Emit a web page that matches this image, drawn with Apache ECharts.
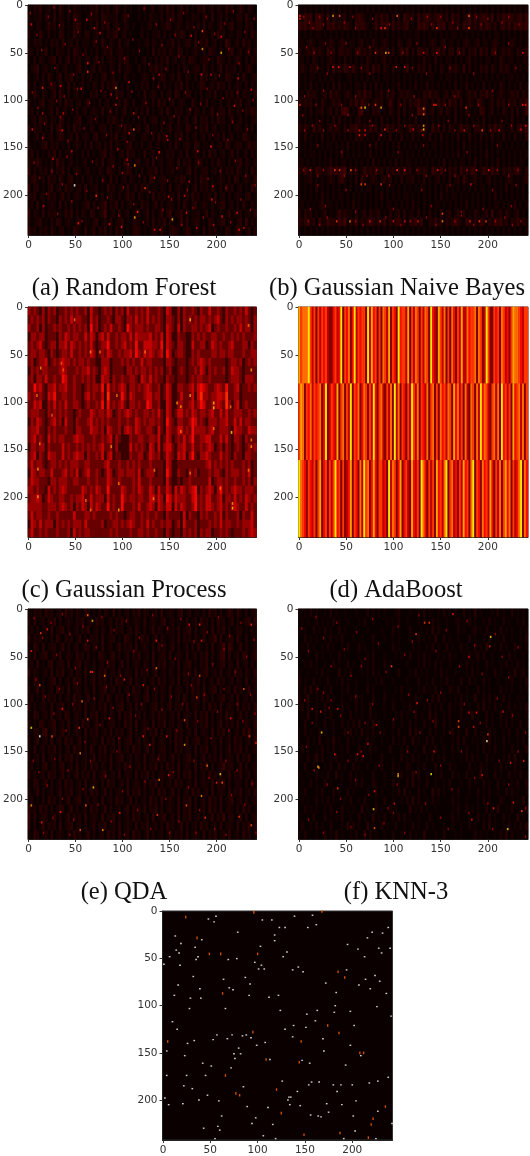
<!DOCTYPE html>
<html><head><meta charset="utf-8">
<script src="https://cdn.jsdelivr.net/npm/echarts@6/dist/echarts.min.js"></script>
<style>html,body{margin:0;padding:0;background:#fff}#c{width:530px;height:1156px}</style></head>
<body><div id="c"></div>
<script>
const captions = ["(a) Random Forest","(b) Gaussian Naive Bayes","(c) Gaussian Process","(d) AdaBoost","(e) QDA","(f) KNN-3",""];
const tickLabels = [0,50,100,150,200];
const heatA = [
"102130120 203102021 101021302 120131020 100102012 012031201 302010213 012021031 201310210",
"201120210 302102032 100121203 211120131 000101021 102021302 201021102 103012020 102203101",
"110210131 202201023 201010302 130121021 010010120 201132012 102110203 021013102 301102120",
"201031020 103201031 102201201 021230120 100020101 120201021 320102012 102031201 102102031",
"102120102 120301202 011102103 102103012 000101202 102011302 012203021 301201042 012031201",
"210201301 021102032 102010201 213012201 010100103 021202103 201012102 032102012 301201302",
"102021012 302013021 201201302 012102132 001012010 202130120 120321012 201032102 013102021",
"012301201 020120102 301012021 102103012 100201021 312020102 021012203 102013021 120201310",
"101202031 013021301 020120102 301201021 010012102 013201203 102102031 201201032 102031012",
"202012013 202103020 120102103 021320102 001021201 020201021 302010132 012031202 012102021",
"103102101 303102012 010021201 202031201 100103012 102012032 012201020 120301021 203021103",
"201023012 102031201 201301020 120102031 020012102 031201201 210031020 301102012 021301201",
"120201012 030120102 012012103 012020130 102020301 012031021 201202102 013012203 102102132",
"012031202 103201012 300120201 021310201 010102012 201102103 012013021 202031201 301201012",
"202120103 024102031 201021012 202012031 201201301 102013012 103201021 301201102 012102020",
"101203012 013201203 012102301 102130120 120012102 031201021 302012012 020120301 201032101",
"201012302 120102012 102030120 203021012 301020120 120102031 012103201 102012032 012201312",
"130201021 302011201 020201012 302101203 120103012 021021201 203012102 031201201 302012021",
"211320102 041201201 012010203 012201032 102201203 012012103 021201320 102031102 012302102",
"302021203 021302012 101201021 032102013 201020121 302011201 102302012 201203021 203102031",
"123102031 203102301 020120102 103020120 210102032 012201021 320102031 201012102 032012103",
"302201023 012031201 203011201 031201203 012031201 102103012 102013021 203102031 201201032",
"213012031 201302012 102010302 012102013 120210103 021201203 012031201 120301202 012102301",
"120302012 103020201 012302012 402130201 201031201 302012102 031023012 102012301 202031021",
"302103021 201031302 021032012 501203012 012201302 013024012 302011201 302102013 021201203",
"201230102 032012102 201102301 203012301 022101203 021302101 403012201 032012301 102304021",
"312021203 102201032 103013021 302031201 023201012 203102321 013201103 021201032 013201302"];
const heatB = [
"101010101 010101010 101010101 010101010 101010101 010101010 101010101 010101010 101010101",
"213230332 030211120 102321010 213120202 032120312 321232120 312012313 123213021 323212313",
"323132332 032312132 103232101 313230312 123010323 203132302 212032312 131321202 313132323",
"101010110 101010101 010101010 101010101 010101101 010101010 110101010 101010110 101010101",
"110121011 012101210 110120102 101210102 101201101 012101201 101012101 201101210 101210101",
"201213121 031202212 102312120 212120201 313020321 202131202 203120212 031202301 212102112",
"110102101 012101020 101010210 101201010 101010102 010201011 010101201 010110102 101101011",
"121021201 020312132 131021203 120210201 013010212 020102102 121030201 021202102 121020101",
"101011010 101101001 101010101 010110101 010101010 011001011 010101001 010101010 101101010",
"101020101 010202010 101102010 201010102 010102010 201010101 020102010 102010102 101010201",
"110212101 203121012 101213120 112021201 212110102 131210120 213101212 021312012 101212021",
"212120102 101212010 213132101 212013102 020212312 102021203 120201210 321012021 202120213",
"101020112 012020343 010340102 120102102 020110434 012012021 020102101 032012010 210202013",
"101010101 010202010 101201010 102010102 010102010 101010101 020101010 102010101 010201010",
"212103121 012121020 223112131 202131202 101321212 103120202 101312102 212021312 101202313",
"102010102 010201010 102120101 020102010 201020101 020102010 102010201 020102010 201020102",
"101010101 011010102 010101010 201010102 010101010 101101010 101020101 010101011 010101010",
"101011010 101010201 010101020 101010101 101010101 010101010 102010101 010201010 101010101",
"110101010 102010110 101010102 010101020 101101010 101010201 010110102 010101020 101010110",
"213120321 123232340 212013121 312021212 131201212 103213102 120312132 013213120 212123102",
"101120101 012102310 102031012 101212010 201120102 010120102 012031012 010120101 012101012",
"101010201 010101010 101010110 101010101 010101011 010101020 101010101 011010101 020101010",
"101010102 010101101 010101010 102010101 011010101 010102010 110101010 101010201 010101010",
"110101012 011010101 020101010 101011010 101020101 010110101 010102010 101010110 101020101",
"202120101 201013121 102012021 120102012 020110201 020102012 012020102 101203012 021012010",
"212312031 132213240 213021232 121302123 120223130 021312021 232103212 132021323 120213121",
"101010101 010101010 101010101 010101010 101010101 010101010 101010101 010101010 101010101"];
const heatC = [
"323213132 312232323 223142212 323132314 223232422 232143113 132232132 242232132 232324212",
"232323132 213232423 322142312 232133213 324232423 232133213 132323233 232342132 323323213",
"322313122 323223232 323152312 324223215 323332322 332143214 132233232 341232232 232423313",
"133233122 213243233 224243134 242232332 424333342 324143113 221132323 223322322 323232223",
"232342123 313342432 323242123 352232342 325224443 325143213 321142233 124323223 422233132",
"233233213 212332422 323243123 243223233 425324343 234153123 321132322 223323323 322232233",
"231233412 323433232 332322113 331222323 232242332 222133212 221232343 232222212 332312323",
"132323322 223432223 233423213 431222213 323233232 323123112 321223243 132322312 433212222",
"231332422 322542232 232323114 331322322 332143242 322132212 221232332 232222212 333213332",
"225342133 423342232 212323325 152323431 332323432 231243113 322342454 322343252 234122323",
"323232143 522332232 213423224 162222531 432223442 331243112 422241463 323344362 233122222",
"224341132 423242233 212322325 152323421 332322542 231143113 322342354 223343263 134123222",
"233322132 323232212 322243233 243123234 323223323 242143124 423243233 234224242 233322323",
"132432123 423142213 222342323 232223223 224323233 232153213 322354232 133323342 242423322",
"233422132 322232213 322243323 143223134 324322332 142143224 423253333 234223332 143322433",
"234232142 323322234 332223223 234132111 322332233 241243123 242352233 442224242 133213222",
"133233132 222423223 232323234 223131111 423232143 141344213 342242232 343123132 123212323",
"234132143 322423234 331322324 134122111 322331243 231243214 341352133 432224232 132213322",
"242332123 323232333 223322222 342223223 232322232 222143112 222222222 342323232 322232312",
"143233224 222342324 123422321 243123323 332412333 122153113 221323122 232332132 333232412",
"243322213 323332233 222322322 243223222 232422232 222142112 122322222 241233232 232232313",
"332322142 323432222 243232432 252222432 232432243 142243142 432345132 343135232 343323332",
"233431243 223322323 342242333 142322532 332332244 243154243 332245232 442234133 242324323",
"333332233 323432313 243142432 252322522 232422343 143244142 432235232 443234232 343224232",
"242332232 232222242 223323222 223232212 332232322 322132222 141322132 322324132 223132242",
"143242333 132323233 324222223 122332323 432232423 223233123 142223122 232324233 223233342",
"242232322 232223142 323322222 223232222 322332322 322132122 132323132 331223232 122232343"];
const heatD = [
"7566685352 5354532245 3482546248 3545528374 5252653725 4284553725 3652536528 4327536252 6425373364 5562652385 2254526534 2576654355",
"5762546354 5624823543 7256253825 4624652538 4256325362 8362542538 5362543625 6252645365 2746352632 6526384653 2563628453 5274563625",
"8654254352 5724525358 4525234725 4263856247 4255342836 5247245327 4352864253 5274536825 6342537452 6825426453 7425362574 6253468264"];
const heatE = [
"102120312 012031202 103201020 210302012 021302101 203012102 301201102 031202013 203102012",
"203012021 302012102 130120312 012021302 012103012 102301201 102012031 202031201 302012303",
"120201203 012302012 021301202 103021201 203102013 021021203 012302012 103021302 012201021",
"302120102 031021201 301021203 012201032 102031201 302101203 021202103 012403012 203102012",
"103203012 201302012 013202103 012013021 203012102 031201302 012020310 203012504 201302012",
"203012301 203012103 120201032 102302012 021301203 012203012 103012021 302013403 012032013",
"120301023 012203012 302102012 031201302 012102103 021301203 012301021 302012302 103012021",
"302101203 021301202 103012021 301203012 103021201 301202103 021203012 301203012 031202103",
"103201012 302012031 202013021 202031201 302102012 031201203 012021302 012031201 202103012",
"201302012 031203012 102103012 301202012 031201301 202103012 102031203 012302012 031201302",
"120103021 202012031 201302012 031021203 012102301 202103012 031021203 102012301 203012021",
"302012103 012301021 203012021 302012301 203021012 302013021 203012102 031203012 103021203",
"103201203 012032012 103021301 202103021 301202012 031201203 012103021 302012031 201302012",
"201032012 301203012 031201302 012201031 203012103 021301202 103012021 302013021 203012103",
"102203401 301302012 103021301 203021201 302013021 302012031 201203012 103021302 012031402",
"201301203 012031201 302012103 021203012 301202103 012102031 203012301 202103012 031201203",
"103012021 302012031 202031021 301203012 031201302 012201031 202103021 301202013 021302012",
"201203012 103021302 012013021 203012301 202103012 031201302 012302013 021203012 103021301",
"120102301 202301203 012031202 103012031 201203021 302031203 012103021 302012412 201302012",
"302012031 201302013 021203012 301203012 103021302 012103203 021302012 031203013 021301202",
"103201302 012031201 203012102 031201203 012103021 302012031 201203012 103021302 012102031",
"201302012 013021301 202031201 302012103 021302012 031201302 012031201 203012103 021301203",
"120102031 202013012 301202103 012031201 302012031 203012103 021302012 031203012 301202012",
"312031202 013201302 012031201 302012013 021203021 302012103 021302012 031203012 102031201",
"403012201 302013021 203012103 021302012 031201203 012301203 021301202 013021402 201302012",
"302013021 203012301 202013021 301203012 103021301 202031201 302012031 201203012 103021302",
"103201203 012102031 201302012 031203012 031201302 012013021 203012103 021301203 012031201"];
const heatF = [
"101020100 102010010 001000201 010100012 000100102 010010201 010020103 010001020 100201010",
"010100201 010201001 000102001 000010102 001000101 002010010 012010201 001020100 201001020",
"101002010 201002010 001000100 001000201 000200010 103020010 002010012 010200102 010100101",
"002010100 102010200 010010002 000100101 000100201 010300201 001000201 001020010 200100102",
"010201001 020100102 000201001 010000201 000010100 102010020 100201002 010300102 010020101",
"100100201 001002010 000100102 000100010 100200102 010010102 010010201 202001000 102010010",
"001020100 100201002 010020102 000201000 001000102 010201001 000102010 100201001 020102010",
"100100102 010003010 200010102 010010002 000102010 100102010 010001020 100100201 001030120",
"201002010 020010201 001000100 102000100 001000200 102001020 100200201 002010010 010200102",
"102030200 102000102 001000201 000100010 200100102 010201002 102001000 201010002 010100101",
"201300102 020100100 102010002 000200100 100102010 002030100 010201003 002020100 201001010",
"120200100 201000201 002010030 000100200 010201001 020102002 010200100 203010201 002010102",
"010300200 102000100 201010020 100100010 201002010 030200102 000201030 100201002 010201001",
"002000100 200100201 020300103 010000200 100201002 010300201 002010100 100201001 020100201",
"102010020 100100020 201030102 000100102 000302010 020100100 201003002 010020100 102002010",
"100201030 010301002 010100201 001000201 020030100 202001000 102020010 102030100 201001020",
"020100102 010200102 000201020 100002000 102001003 010200100 201002000 102010200 100201002",
"100201302 001020100 102020010 002000100 201020100 102010200 100102020 100201000 102030100",
"002001000 102002010 020100100 102000201 002100102 000201002 010000201 020100102 010020100",
"100100201 020030100 201010002 000100100 201030200 100102000 201002010 030100201 002010201",
"010020100 201000100 102020002 100100201 002030100 200100102 000100201 002010020 100102002",
"102000102 000201002 010000100 201000102 030100201 003020100 102000100 201020010 020201001",
"010100201 020100010 200102000 100200100 102030200 102010000 201001000 102010002 100101030",
"002010100 102000201 010030100 201002010 000301020 100100000 102002010 100201030 010200102",
"100102000 201010200 100201003 010200102 020100100 020010000 201000100 201020100 201003010",
"020010201 002000103 020100301 002010020 010020100 201000100 100100201 002030100 102010203",
"102000100 201030100 102003020 100100200 100201003 000100200 010100002 010100102 030201010"];
const hotA = [[49,190,1],[63,61,.4],[63,70,.45],[56,88,.35],[93,87,.6],[93,105,.35],[36,132,.35],[76,29,.35],[70,24,.35],[50,15,.3],[62,15,.35],[185,27,.5],[185,46,.6],[205,50,.65],[205,33,.35],[173,32,.35],[139,73,.3],[133,77,.25],[112,131,.5],[112,114,.35],[107,135,.35],[113,169,.6],[139,155,.4],[124,193,.45],[116,218,.45],[113,224,.65],[153,226,.65],[168,219,.35],[95,152,.3],[46,154,.3],[26,162,.35],[72,201,.45],[16,212,.3],[53,230,.4],[86,231,.35],[99,234,.4],[179,235,.3],[166,201,.3],[180,154,.35],[194,149,.4],[219,106,.35],[237,89,.35],[223,77,.35],[194,73,.3],[184,73,.35],[147,138,.35],[148,142,.3],[37,114,.3],[34,85,.35],[15,87,.4],[15,114,.3],[15,140,.3],[4,131,.35],[3,20,.35],[88,94,.3],[107,81,.35],[195,205,.35],[196,191,.3],[222,219,.35],[197,232,.3],[206,223,.35],[224,237,.35],[229,235,.3],[134,237,.35],[140,237,.35],[100,177,.3],[105,163,.3],[134,182,.3],[171,186,.3],[149,202,.35]];
const speckA = [[2,8],[9,31],[14,47],[21,12],[27,2],[28,66],[33,21],[39,41],[44,6],[48,73],[53,28],[58,52],[67,9],[72,38],[75,60],[81,18],[84,44],[90,71],[96,25],[102,56],[106,11],[111,36],[118,48],[123,3],[128,62],[136,20],[142,42],[146,67],[151,15],[156,31],[160,54],[165,8],[170,70],[176,23],[181,39],[189,12],[192,57],[198,30],[203,74],[209,19],[213,46],[218,6],[224,61],[230,28],[234,49],[240,14],[4,92],[10,108],[17,125],[24,83],[30,101],[34,118],[38,96],[42,143],[47,110],[52,88],[59,130],[65,103],[71,120],[77,90],[83,137],[87,112],[94,98],[99,127],[105,144],[110,91],[117,118],[125,103],[131,135],[138,86],[144,124],[150,99],[155,117],[161,141],[167,92],[172,110],[178,129],[183,104],[190,88],[196,137],[201,115],[207,98],[212,142],[217,123],[222,92],[228,111],[233,131],[239,100],[6,166],[12,182],[19,199],[25,175],[31,220],[36,189],[41,160],[46,207],[51,178],[57,228],[62,196],[68,165],[74,214],[79,185],[84,203],[90,170],[96,222],[101,192],[106,168],[112,210],[118,180],[122,229],[129,197],[136,161],[143,216],[148,185],[152,205],[158,172],[163,232],[169,195],[175,214],[181,166],[186,224],[191,183],[199,208],[204,175],[210,193],[215,229],[220,164],[226,205],[231,180],[236,216],[241,190]];
const hotB = [[66,108,.55],[70,108,.72],[87,108,.65],[132,109,.6],[132,115,.55],[132,127,.65],[132,131,.72],[92,50,.68],[95,50,.5],[81,50,.45],[36,11,.65],[43,11,.5],[104,11,.55],[1,11,.4],[1,14,.4],[180,11,.55],[180,24,.5],[146,24,.45],[87,24,.4],[91,24,.45],[36,65,.4],[42,65,.4],[103,65,.4],[112,65,.4],[54,65,.35],[38,174,.45],[43,174,.45],[55,174,.5],[12,174,.4],[104,174,.45],[112,174,.4],[66,189,.5],[70,189,.45],[87,189,.45],[182,189,.35],[54,228,.55],[40,228,.45],[152,228,.6],[152,220,.5],[191,228,.45],[198,228,.45],[181,228,.4],[75,228,.35],[86,228,.4],[100,228,.35],[112,228,.35],[126,228,.35],[146,50,.4],[132,50,.35],[237,50,.35],[1,105,.4],[81,105,.45],[143,105,.4],[145,105,.4],[237,105,.4],[240,105,.35],[64,132,.35],[70,132,.35],[91,131,.45],[121,131,.35],[175,132,.35],[194,132,.5],[212,132,.35],[235,131,.35],[240,127,.35],[177,108,.45],[64,137,.4],[70,137,.35],[87,137,.4],[131,137,.35],[201,174,.4],[188,174,.35],[147,174,.35]];
const speckB = [[5,12],[11,18],[15,24],[22,12],[26,20],[30,14],[48,18],[57,12],[60,24],[78,14],[96,20],[119,14],[136,12],[140,20],[150,12],[163,18],[168,24],[188,12],[193,20],[200,14],[215,18],[222,12],[233,20],[8,44],[16,50],[28,40],[34,50],[50,40],[62,50],[75,44],[110,50],[125,40],[155,44],[170,50],[208,50],[222,40],[20,66],[30,72],[66,66],[75,72],[120,66],[135,72],[160,66],[185,72],[230,66],[6,96],[18,105],[26,90],[45,105],[60,96],[74,105],[95,90],[108,105],[122,96],[155,105],[165,96],[190,105],[205,90],[222,105],[4,116],[22,122],[52,116],[75,122],[120,116],[158,122],[180,116],[215,122],[6,132],[14,127],[26,132],[38,127],[52,132],[78,127],[103,132],[112,127],[130,132],[148,127],[165,132],[185,127],[203,132],[225,127],[20,148],[45,155],[75,148],[105,155],[132,148],[178,155],[210,148],[5,174],[20,180],[26,174],[48,180],[60,174],[72,180],[82,174],[95,180],[125,174],[135,180],[155,174],[165,180],[178,174],[210,174],[222,180],[232,174],[20,190],[50,195],[96,190],[130,195],[160,190],[205,195],[230,190],[12,215],[28,212],[60,218],[100,215],[140,212],[172,218],[195,215],[225,212],[10,228],[22,232],[30,224],[60,228],[68,232],[92,224],[108,232],[118,228],[135,224],[145,232],[165,228],[172,222],[185,232],[208,228],[218,224],[226,232],[235,228]];
const hotC = [[237,66,.62],[13,64,.6],[172,13,.68],[66,47,.6],[76,47,.55],[124,47,.55],[158,101,.6],[162,105,.62],[172,93,.62],[197,101,.68],[197,106,.7],[215,105,.55],[216,132,.7],[237,147,.62],[237,140,.55],[88,147,.6],[12,144,.55],[10,171,.62],[10,200,.62],[96,214,.65],[96,186,.55],[217,212,.68],[217,207,.6],[66,214,.55],[204,191,.55],[133,202,.6],[234,19,.55],[49,13,.55],[234,172,.55],[134,172,.55],[162,131,.55],[197,128,.55],[25,114,.5],[35,59,.5],[37,66,.5],[61,204,.55],[172,175,.55],[94,93,.55],[9,93,.55]];
const hotE = [[12,134,1],[25,134,.5],[3,125,.72],[63,6,.55],[68,12,.65],[13,25,.45],[20,21,.4],[182,16,.45],[171,16,.4],[237,16,.45],[63,33,.4],[136,33,.4],[184,33,.4],[3,44,.4],[66,66,.45],[68,66,.45],[136,62,.55],[81,70,.55],[102,74,.4],[182,70,.5],[12,80,.5],[122,80,.4],[229,84,.5],[57,97,.55],[179,93,.45],[54,125,.45],[86,115,.4],[63,116,.5],[166,117,.5],[166,143,.65],[55,152,.6],[129,143,.4],[242,141,.4],[235,134,.45],[204,174,.72],[206,183,.5],[190,165,.55],[69,188,.7],[139,180,.55],[184,197,.6],[3,207,.62],[61,207,.5],[168,207,.5],[224,219,.45],[137,217,.45],[97,215,.4],[79,233,.6],[14,225,.4],[34,214,.4],[55,233,.5],[237,228,.5],[188,220,.45],[36,105,.4],[122,134,.4],[147,134,.4],[215,115,.4],[200,183,.4],[149,175,.4]];
const speckE = [[6,9],[15,30],[24,14],[30,48],[36,5],[44,26],[50,62],[58,18],[72,40],[78,8],[84,56],[91,22],[98,70],[104,12],[112,44],[118,30],[126,64],[132,6],[142,38],[148,20],[156,52],[162,10],[170,68],[176,34],[190,24],[196,58],[202,8],[208,42],[214,28],[220,66],[226,14],[232,50],[240,32],[8,74],[18,92],[27,110],[33,84],[40,128],[47,100],[52,78],[60,140],[70,94],[76,122],[83,82],[90,104],[96,136],[107,90],[114,112],[120,100],[127,126],[134,84],[142,106],[152,92],[158,128],[164,100],[173,80],[180,118],[187,90],[194,136],[201,108],[208,84],[213,128],[222,100],[228,118],[236,90],[241,110],[5,160],[11,172],[20,186],[28,158],[36,200],[42,170],[48,222],[58,190],[66,160],[74,206],[82,176],[88,224],[94,150],[100,192],[108,166],[116,212],[124,182],[130,232],[138,158],[146,200],[154,172],[160,224],[170,188],[176,160],[182,212],[192,178],[198,232],[210,160],[216,196],[222,170],[230,206],[238,184],[242,236],[16,236],[26,220],[44,238],[102,238],[150,236],[178,236],[210,238]];
const hotF = [[203,29,.7],[79,211,.7],[20,166,.65],[21,167,.6],[24,130,.7],[105,174,.6],[105,176,.65],[140,174,.72],[199,139,.9],[200,132,.45],[221,232,.7],[98,60,.5],[124,26,.45],[133,14,.45],[138,14,.45],[163,5,.4],[169,118,.45],[169,124,.5],[14,105,.35],[23,108,.4],[41,105,.35],[38,153,.4],[62,153,.4],[68,155,.4],[73,142,.35],[143,150,.35],[180,109,.35],[188,109,.4],[185,124,.35],[202,39,.4],[180,50,.35],[224,162,.4],[236,213,.45],[227,204,.4],[80,192,.4],[101,205,.35],[80,231,.5],[194,175,.35],[238,160,.4],[125,99,.4],[82,122,.35],[41,189,.45],[206,210,.4],[183,222,.35],[216,108,.35]];
const speckF = [[3,20],[10,44],[18,8],[26,30],[34,60],[40,14],[48,42],[55,70],[61,24],[66,60],[70,52],[78,10],[84,36],[92,66],[105,18],[112,48],[120,34],[127,6],[145,44],[156,22],[170,60],[178,12],[186,38],[194,68],[208,26],[215,50],[222,72],[232,40],[20,84],[26,88],[34,96],[6,96],[14,120],[32,104],[44,112],[52,130],[60,92],[70,120],[78,100],[86,130],[100,116],[116,90],[122,108],[128,130],[136,96],[142,118],[150,88],[160,130],[175,100],[192,120],[210,94],[226,112],[240,130],[8,145],[16,170],[30,185],[44,200],[52,160],[60,180],[66,150],[74,196],[85,165],[94,210],[104,185],[115,150],[124,172],[134,205],[150,165],[162,190],[172,150],[186,178],[200,205],[212,160],[222,185],[232,150],[240,210],[10,222],[26,236],[40,214],[55,230],[70,238],[90,226],[100,215],[112,236],[150,220],[158,232],[180,215],[205,232],[240,240]];
const whiteG = [[56,5],[48,8],[54,11],[105,9],[115,9],[139,5],[158,4],[162,14],[153,17],[123,17],[129,17],[79,22],[118,25],[13,26],[118,31],[19,34],[41,30],[34,38],[103,37],[14,41],[17,44],[7,48],[37,48],[35,51],[69,51],[78,50],[127,48],[131,43],[97,54],[104,57],[101,61],[107,61],[137,62],[143,59],[148,64],[1,56],[18,57],[32,69],[64,72],[87,70],[92,77],[16,78],[39,82],[70,81],[74,83],[12,89],[29,92],[40,92],[91,89],[112,91],[122,89],[28,103],[66,103],[124,105],[152,109],[163,105],[181,107],[182,100],[198,106],[226,101],[241,111],[10,117],[15,125],[129,125],[138,121],[151,123],[161,116],[202,121],[57,131],[73,131],[68,135],[53,136],[84,132],[88,131],[93,134],[137,133],[169,135],[33,137],[26,140],[108,139],[99,142],[198,142],[4,148],[23,153],[75,151],[80,145],[82,151],[76,156],[209,153],[170,148],[113,157],[147,158],[42,161],[155,161],[51,164],[193,163],[72,166],[4,174],[25,174],[45,174],[22,185],[31,188],[85,186],[126,180],[154,184],[157,181],[165,181],[180,184],[188,184],[200,184],[218,182],[227,180],[238,176],[184,191],[142,191],[47,195],[2,198],[38,200],[59,201],[21,204],[6,205],[89,207],[111,208],[133,197],[135,197],[132,200],[134,205],[145,206],[173,204],[189,205],[204,201],[227,212],[175,213],[156,216],[164,217],[167,218],[201,217],[62,217],[98,219],[94,225],[116,226],[58,228],[60,232],[43,230],[203,233],[242,225],[55,241],[106,238],[119,241],[191,241],[225,241],[216,28],[221,22],[232,23],[238,17],[195,35],[206,40],[213,48],[228,39],[231,44],[240,39],[194,62],[214,72],[224,68],[229,74],[207,78],[219,82],[183,86],[236,87],[172,76]];
const orangeG = [[96,1],[168,0],[24,6],[36,28],[49,45],[61,45],[100,45],[185,64],[192,70],[63,87],[95,128],[174,121],[186,129],[5,138],[146,138],[208,150],[212,150],[109,157],[144,160],[66,174],[77,193],[81,195],[120,189],[235,207],[125,214],[222,220],[220,226],[187,235],[149,237],[217,240]];

const panels = [
 {rows:heatA,scale:.016,hot:hotA,speck:speckA,box:[26,5,256.5,235],   cap:[124,289], size:[1.6,2.4]},
 {rows:heatB,scale:.02, hot:hotB,speck:speckB,box:[298.5,5,528,235],  cap:[397,289], size:[1.6,2.2]},
 {rows:heatC,scale:.07, hot:hotC,speck:[],    box:[26,307,256.5,537], cap:[124,591], size:[1.6,3]},
 {rows:heatD,scale:.09, hot:[],  speck:[],    box:[298.5,307,528,537],cap:[396,591], size:[2,2]},
 {rows:heatE,scale:.016,hot:hotE,speck:speckE,box:[26,609,256.5,839], cap:[124,893], size:[1.6,2.2]},
 {rows:heatF,scale:.014,hot:hotF,speck:speckF,box:[298.5,609,528,839],cap:[396,893], size:[1.6,2.2]},
 {rows:[],   scale:0,   hot:[],  speck:[],    box:[162.5,911,392.5,1141],cap:null,   size:[1.7,1.4]}
];
const speckLevel = .24;
const idx = Array.from({length:243},(_,i)=>String(i));
const keepTick = (i)=>i%50===0;
const grids=[],xAxes=[],yAxes=[],series=[];
const baseAxis = {type:'category',data:idx,boundaryGap:true,
  axisLine:{show:true,lineStyle:{color:'#222',width:1}},
  axisTick:{show:true,alignWithLabel:true,length:3,interval:keepTick,lineStyle:{color:'#333',width:1}},
  axisLabel:{interval:keepTick,color:'#333',fontFamily:'DejaVu Sans',fontSize:10.5,margin:5},
  splitLine:{show:false}};
panels.forEach((p,k)=>{
  const [l,t,r,b]=p.box;
  grids.push({left:l,top:t,width:r-l,height:b-t,show:true,backgroundColor:'#0b0000',borderColor:'#333',borderWidth:1,z:0});
  const ax=xAxes.length;
  xAxes.push({...baseAxis,gridIndex:k,position:'bottom'});
  yAxes.push({...baseAxis,gridIndex:k,position:'left',inverse:true});
  const rows=p.rows.map(s=>s.replace(/ /g,''));
  if(rows.length){
    const nc=rows[0].length;
    xAxes.push({type:'category',gridIndex:k,show:false,data:Array.from({length:nc},(_,i)=>i)});
    yAxes.push({type:'category',gridIndex:k,show:false,inverse:true,data:rows.map((_,i)=>i)});
    const cells=[];
    rows.forEach((s,y)=>{for(let x=0;x<nc;x++)cells.push([x,y,(+s[x]||0)*p.scale]);});
    series.push({type:'heatmap',xAxisIndex:ax+1,yAxisIndex:ax+1,data:cells,progressive:0,silent:true,animation:false,emphasis:{disabled:true},itemStyle:{borderWidth:0},z:1});
  }
  if(p.speck.length){
    series.push({type:'scatter',xAxisIndex:ax,yAxisIndex:ax,data:p.speck.map(d=>[d[0],d[1],speckLevel]),symbol:'rect',symbolSize:[1.3,2.6],silent:true,animation:false,z:2});
  }
  if(p.hot.length){
    series.push({type:'scatter',xAxisIndex:ax,yAxisIndex:ax,data:p.hot,symbol:'rect',symbolSize:p.size,silent:true,animation:false,z:3});
  }
  if(k===6){
    series.push({type:'scatter',xAxisIndex:ax,yAxisIndex:ax,data:whiteG.map(d=>[d[0],d[1],1]),symbol:'rect',symbolSize:p.size,silent:true,animation:false,z:3});
    series.push({type:'scatter',xAxisIndex:ax,yAxisIndex:ax,data:orangeG.map(d=>[d[0],d[1],.52]),symbol:'rect',symbolSize:[1.4,2.6],silent:true,animation:false,z:3});
  }
});
const graphics=panels.filter(p=>p.cap).map((p,i)=>({type:'text',x:p.cap[0],y:p.cap[1],silent:true,
  style:{text:captions[i],align:'center',verticalAlign:'middle',font:'24.6px "Liberation Serif"',fill:'#111'}}));
const chart=echarts.init(document.getElementById('c'),null,{renderer:'canvas'});
chart.setOption({animation:false,backgroundColor:'#fff',grid:grids,xAxis:xAxes,yAxis:yAxes,series,graphic:graphics,
  visualMap:{show:false,type:'continuous',min:0,max:1,dimension:2,
    inRange:{color:['#0b0000','#5e0000','#b20000','#ff0a00','#ff5500','#ff9f00','#ffff03','#ffff80','#ffffff']}}});
</script></body></html>
